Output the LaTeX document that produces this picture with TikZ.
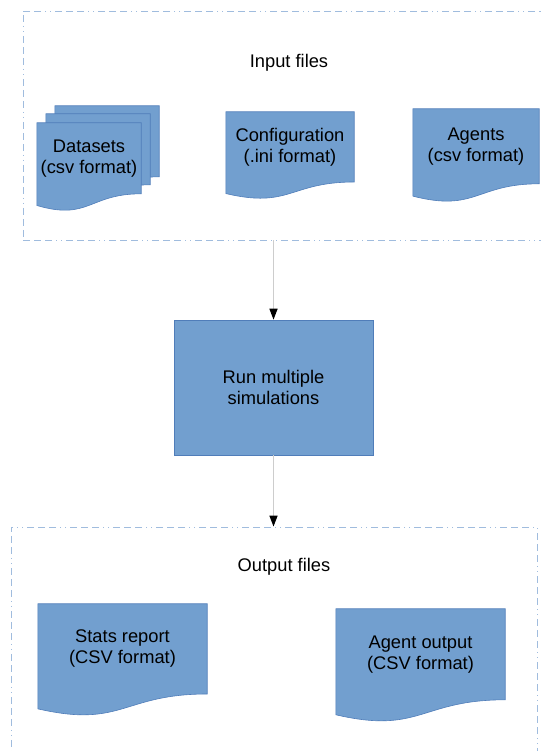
\documentclass[tikz,border=0pt]{standalone}
\usepackage{fontspec}
\setmainfont{Liberation Sans}
\usetikzlibrary{arrows.meta,calc,backgrounds}
\definecolor{docblue}{RGB}{114,159,207}
\definecolor{docedge}{RGB}{80,125,185}
\definecolor{framecol}{RGB}{160,188,222}
\definecolor{linegray}{RGB}{205,205,205}
\tikzset{
  box/.style={rectangle, inner sep=0pt, align=center, font=\fontsize{18.3}{21}\selectfont},
  docnode/.style={box},
  frame/.style={rectangle, draw=framecol, line width=.8pt,
    dash pattern=on 7pt off 4pt on 7pt off 4pt on 7pt off 4pt on 1pt off 4pt on 1pt off 4pt},
  flow/.style={draw=linegray, line width=1.5pt, -{Triangle[color=black,length=11pt,width=8pt]}},
  docfill/.style={fill=docblue, draw=docedge, line width=.6pt}
}
% document shape below a text node
\newcommand\docshape[1]{%
  \filldraw[docfill] (#1.north west) -- (#1.north east) -- (#1.south east)
    .. controls (#1.south) and ($(#1.north)!1.381!(#1.south)$)
    .. ($(#1.north west)!1.1646!(#1.south west)$) -- cycle;}
\begin{document}
\begin{tikzpicture}[x=1pt, y=1pt]
\useasboundingbox (0,0) rectangle (540,751);
% frames
\node[frame, minimum width=518, minimum height=229] (inframe) at (282,625.5) {};
\node[frame, minimum width=526, minimum height=240] (outframe) at (274,104) {};
\node[box] (inlabel) at (289,688) {Input files};
\node[box] (outlabel) at (284,184) {Output files};
% input files
\node[docnode, minimum width=104, minimum height=70.6] (setsC) at (107,609.7) {};
\node[docnode, minimum width=104, minimum height=70.6] (setsB) at (98,601.7) {};
\node[docnode, minimum width=104, minimum height=70.6] (sets) at (89,592.7) {Datasets\\(csv format)};
\node[docnode, minimum width=128, minimum height=69.8] (config) at (290,604.1) {Configuration\\(.ini format)};
\node[docnode, minimum width=126, minimum height=74.6] (agents) at (476,604.7) {Agents\\(csv format)};
% simulation
\node[box, fill=docblue, draw=docedge, line width=.6pt, minimum width=199, minimum height=135] (sim) at (273.5,363.5) {Run multiple\\simulations};
% output files
\node[docnode, minimum width=169, minimum height=89.8] (stats) at (122.5,102.1) {Stats report\\(CSV format)};
\node[docnode, minimum width=169, minimum height=90.6] (agentout) at (420.5,96.7) {Agent output\\(CSV format)};
\begin{scope}[on background layer]
\docshape{setsC}
\docshape{setsB}
\docshape{sets}
\docshape{config}
\docshape{agents}
\docshape{stats}
\docshape{agentout}
\end{scope}
% arrows
\draw[flow] (sim.north |- inframe.south) -- (sim.north);
\draw[flow] (sim.south) -- (sim.south |- outframe.north);
\end{tikzpicture}
\end{document}
